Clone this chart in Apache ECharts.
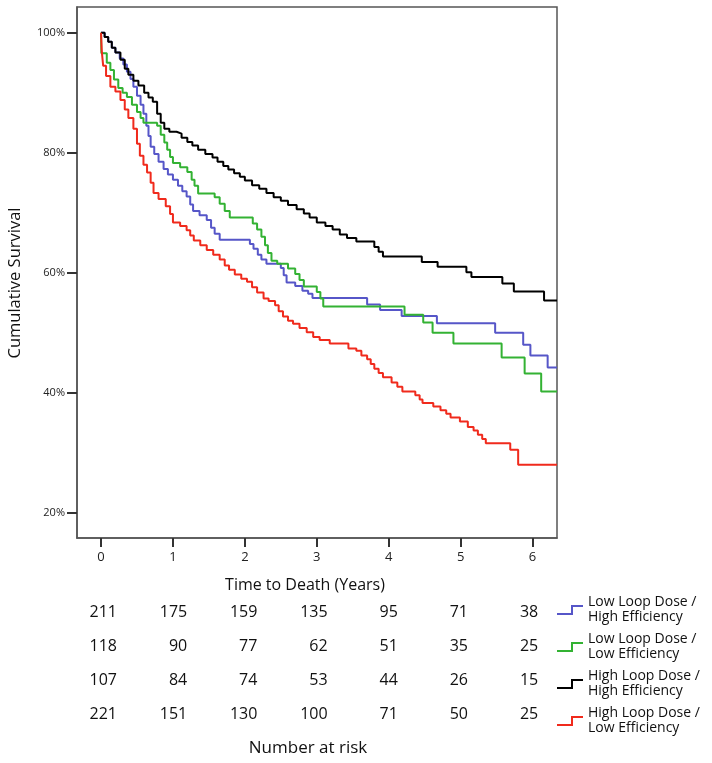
<!DOCTYPE html>
<html><head><meta charset="utf-8">
<script src="https://cdn.jsdelivr.net/npm/echarts@6/dist/echarts.min.js"></script>
<style>html,body{margin:0;padding:0;background:#fff}#c{width:712px;height:763px}</style>
</head><body><div id="c"></div>
<script>
const xTicks = [0, 1, 2, 3, 4, 5, 6];
const yTicks = [20, 40, 60, 80, 100];
const groupNames = [
  'Low Loop Dose / High Efficiency',
  'Low Loop Dose / Low Efficiency',
  'High Loop Dose / High Efficiency',
  'High Loop Dose / Low Efficiency'
];
const groupColors = ['#5656c8', '#33b233', '#000000', '#f02a1c'];

// [time in years, cumulative survival %]
const lowDoseHighEff = [[0,100],[0.05,99.3],[0.1,98.5],[0.15,97.5],[0.2,96.7],[0.26,95.7],[0.31,94.7],[0.36,93.5],[0.41,92.3],[0.45,91],[0.5,89.5],[0.55,88],[0.59,86.5],[0.63,84.5],[0.66,82.8],[0.69,81],[0.74,79.8],[0.8,78.5],[0.87,77.3],[0.93,76.4],[1.0,75.5],[1.07,74.5],[1.13,73.6],[1.19,72.7],[1.24,71.4],[1.28,70.3],[1.37,69.6],[1.47,68.8],[1.53,67.5],[1.58,66.5],[1.65,65.5],[2.07,64.8],[2.12,64],[2.18,63],[2.23,62.2],[2.3,61.5],[2.5,60.8],[2.54,59.6],[2.58,58.4],[2.7,57.8],[2.8,57],[2.88,56.5],[2.94,55.8],[3.7,54.7],[3.88,53.8],[4.18,52.8],[4.67,51.6],[5.48,50],[5.87,48],[5.97,46.2],[6.21,44.2],[6.34,44.2]];
const lowDoseLowEff = [[0,100],[0.005,96.6],[0.08,95],[0.13,93.8],[0.18,92.2],[0.24,90.8],[0.3,90],[0.36,89.3],[0.43,88],[0.5,86.8],[0.55,85.8],[0.59,85],[0.78,84.5],[0.83,83],[0.88,81.7],[0.92,80.5],[0.96,79.3],[1.0,78.3],[1.1,77.6],[1.2,76.8],[1.26,75.5],[1.3,74.5],[1.35,73.2],[1.58,72.6],[1.65,71.5],[1.72,70.3],[1.79,69.2],[2.11,68.2],[2.17,67.2],[2.23,66],[2.28,64.6],[2.32,63.3],[2.37,62],[2.45,61.5],[2.6,60.7],[2.7,59.8],[2.76,58.8],[2.82,57.7],[3.0,56.8],[3.05,55.7],[3.09,54.4],[4.22,53],[4.48,51.7],[4.61,50],[4.9,48.2],[5.57,45.9],[5.89,43.2],[6.12,40.2],[6.34,40.2]];
const highDoseHighEff = [[0,100],[0.05,99.3],[0.1,98.5],[0.15,97.5],[0.2,96.7],[0.27,95.5],[0.33,94],[0.38,93],[0.45,92],[0.52,91.2],[0.6,90],[0.66,89.2],[0.72,88.5],[0.78,86.5],[0.83,85],[0.88,84],[0.95,83.5],[1.05,83.2],[1.12,82.5],[1.2,81.8],[1.27,81.2],[1.35,80.5],[1.45,79.8],[1.55,79.2],[1.62,78.5],[1.7,77.8],[1.77,77.2],[1.85,76.6],[1.93,76],[2.0,75.4],[2.1,74.6],[2.2,74],[2.3,73.3],[2.4,72.6],[2.5,72],[2.6,71.3],[2.72,70.6],[2.82,69.9],[2.9,69.2],[3.0,68.4],[3.12,67.8],[3.22,67.2],[3.32,66.4],[3.42,65.8],[3.55,65.2],[3.8,64.3],[3.86,63.5],[3.92,62.7],[4.46,61.8],[4.68,61],[5.08,60.1],[5.15,59.3],[5.58,58.2],[5.74,56.9],[6.16,55.4],[6.34,55.4]];
const highDoseLowEff = [[0,100],[0.01,97],[0.03,94.5],[0.07,92.8],[0.13,91],[0.2,90.2],[0.27,88.8],[0.33,87.2],[0.38,85.8],[0.45,84],[0.5,81.5],[0.54,79.5],[0.59,78],[0.64,76.7],[0.69,75],[0.73,73.3],[0.8,72.3],[0.9,71.1],[0.96,69.8],[1.0,68.4],[1.1,67.8],[1.19,67.1],[1.24,66.2],[1.29,65.4],[1.38,64.6],[1.47,63.8],[1.56,63],[1.65,62.2],[1.72,61.2],[1.78,60.5],[1.86,59.7],[1.95,59],[2.03,58.5],[2.1,57.6],[2.17,56.7],[2.26,55.7],[2.33,55.3],[2.42,54.6],[2.47,53.6],[2.53,52.7],[2.6,52],[2.67,51.5],[2.76,50.8],[2.86,50.1],[2.95,49.3],[3.04,48.8],[3.18,48.2],[3.44,47.4],[3.55,47],[3.62,46.2],[3.7,45.6],[3.75,44.8],[3.8,44],[3.86,43.3],[3.92,42.6],[4.04,41.7],[4.12,41],[4.19,40.2],[4.37,39.6],[4.43,38.9],[4.47,38.3],[4.62,37.7],[4.72,37.1],[4.8,36.5],[4.86,35.9],[4.99,35.2],[5.1,34.3],[5.18,33.7],[5.24,33],[5.3,32.3],[5.35,31.6],[5.69,30.5],[5.8,28],[6.34,28]];

const numberAtRisk = [
  [211, 175, 159, 135, 95, 71, 38],
  [118, 90, 77, 62, 51, 35, 25],
  [107, 84, 74, 53, 44, 26, 15],
  [221, 151, 130, 100, 71, 50, 25]
];
const xTitle = 'Time to Death (Years)';
const yTitle = 'Cumulative Survival';
const riskTitle = 'Number at risk';

const curves = [lowDoseHighEff, lowDoseLowEff, highDoseHighEff, highDoseLowEff];
const FONT = '"Open Sans", "Liberation Sans", sans-serif';

const graphics = [];
graphics.push({type:'text', x:305, y:585, style:{text:xTitle, font:'16px ' + FONT, fill:'#111', align:'center', verticalAlign:'middle'}});
graphics.push({type:'text', x:308, y:748, style:{text:riskTitle, font:'17px ' + FONT, fill:'#111', align:'center', verticalAlign:'middle'}});
graphics.push({type:'text', x:15, y:283, rotation:Math.PI/2, style:{text:yTitle, font:'16.5px ' + FONT, fill:'#111', align:'center', verticalAlign:'middle'}});
numberAtRisk.forEach((row, r) => {
  row.forEach((v, c) => {
    graphics.push({type:'text', x:117 + 70.2 * c, y:612 + 34.3 * r,
      style:{text:String(v), font:'16px ' + FONT, fill:'#111', align:'right', verticalAlign:'middle'}});
  });
});

const chart = echarts.init(document.getElementById('c'), null, {renderer:'canvas'});
chart.setOption({
  animation:false,
  backgroundColor:'#fff',
  grid:{left:77, top:7, right:155, bottom:225, show:true, borderColor:'#555', borderWidth:1.5, backgroundColor:'transparent'},
  legend:{
    orient:'vertical', left:557, top:595, padding:0, itemWidth:26, itemHeight:10, itemGap:7,
    icon:'path://M0,8L14,8L14,0L26,0L26,2L16,2L16,10L0,10Z',
    itemStyle:{borderWidth:0},
    data:groupNames,
    formatter: n => n.replace(' / ', ' /\n'),
    textStyle:{fontSize:14, lineHeight:15, fontFamily:FONT, color:'#111'}
  },
  xAxis:{
    type:'value', min:-0.334, max:6.34,
    axisLine:{show:true, onZero:false, lineStyle:{color:'#555', width:1.5}},
    axisTick:{show:true, customValues:xTicks, length:9, lineStyle:{color:'#333', width:2}},
    axisLabel:{customValues:xTicks, fontSize:13, margin:13, color:'#222', fontFamily:FONT},
    splitLine:{show:false}
  },
  yAxis:{
    type:'value', min:15.8, max:104.3,
    axisLine:{show:true, onZero:false, lineStyle:{color:'#555', width:1.5}},
    axisTick:{show:true, customValues:yTicks, length:10, lineStyle:{color:'#333', width:2}},
    axisLabel:{customValues:yTicks, formatter:'{value}%', fontSize:11, margin:12, color:'#222', fontFamily:FONT},
    splitLine:{show:false}
  },
  series: curves.map((d, i) => ({
    name:groupNames[i], type:'line', step:'end', data:d, showSymbol:false, symbol:'none',
    color:groupColors[i],
    lineStyle:{color:groupColors[i], width:2},
    itemStyle:{color:groupColors[i]}
  })),
  graphic:graphics
});
</script>
</body></html>
